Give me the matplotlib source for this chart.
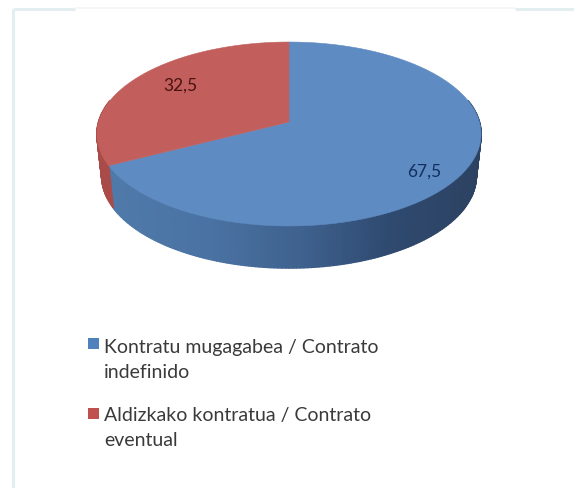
import numpy as np
import matplotlib
matplotlib.use("Agg")
import matplotlib.pyplot as plt
from matplotlib.collections import PolyCollection
from matplotlib.colors import LinearSegmentedColormap

categories = ["Kontratu mugagabea / Contrato\nindefinido",
              "Aldizkako kontratua / Contrato\neventual"]
values = [67.5, 32.5]
value_labels = ["67,5", "32,5"]
top_colors = ["#5f8bc3", "#c25f5c"]
legend_colors = ["#4f81bd", "#c0504d"]
label_colors = ["#12305e", "#4a1210"]

plt.rcParams['font.family'] = ['Lato', 'DejaVu Sans']

fig = plt.figure(figsize=(5.74, 4.88), dpi=100, facecolor="white")
ax = fig.add_axes([0, 0, 1, 1])
ax.set_xlim(0, 574)
ax.set_ylim(488, 0)
ax.axis("off")

# page frame
frame = "#e3eef1"
ax.plot([13, 13], [488, 9], color=frame, lw=2.2, solid_capstyle="butt")
ax.plot([13, 75], [9, 9], color=frame, lw=2.2, solid_capstyle="butt")
ax.plot([515, 574], [9, 9], color=frame, lw=2.2, solid_capstyle="butt")
ax.plot([75, 515], [8, 8], color="#f3f6f6", lw=1.2, solid_capstyle="butt")

# perspective disc
CX, CY, S, A, K, DEPTH, BOTTOM_SCALE = 289, 122, 190.4, 90.4, 0.1304, 42, 0.975


def project(theta):
    """theta: radians clockwise from the top of the disc."""
    x, y = np.sin(theta), np.cos(theta)
    d = 1 + K * y
    return CX + S * x / d, CY - A * y / d


def lower(x, y):
    return CX + (x - CX) * BOTTOM_SCALE, y + DEPTH


fractions = np.array(values) / sum(values)
ends = 2 * np.pi * np.cumsum(fractions)
starts = np.concatenate([[0], ends[:-1]])

# side wall
side_cmap = LinearSegmentedColormap.from_list(
    "side", ["#4f79a8", "#4a73a3", "#3f628f", "#2f4a70", "#2c4262"])
th = np.linspace(0, 2 * np.pi, 361)
blue_end = ends[0]
polys, cols = [], []
for a, b in zip(th[:-1], th[1:]):
    xa, ya = project(a)
    xb, yb = project(b)
    mid = (a + b) / 2
    if not (np.pi / 2 - 0.25 < mid < 3 * np.pi / 2 + 0.25):
        continue
    polys.append([(xa, ya), (xb, yb), lower(xb, yb), lower(xa, ya)])
    if mid < blue_end:
        cols.append(side_cmap(np.clip(((xa + xb) / 2 - 115) / 365, 0, 1)))
    else:
        cols.append("#a94c49")
ax.add_collection(PolyCollection(polys, facecolors=cols, edgecolors=cols,
                                 linewidths=1.2, zorder=2))

# top surface
for s, e, c in zip(starts, ends, top_colors):
    t = np.linspace(s, e, 300)
    xs, ys = project(t)
    ax.fill(np.r_[CX, xs], np.r_[CY, ys], facecolor=c, edgecolor=c, lw=0.4, zorder=3)

# value labels
for lab, col, (x, y) in zip(value_labels, label_colors, [(424, 172), (180, 86)]):
    ax.text(x, y, lab, color=col, fontsize=12.5, ha="center", va="center", zorder=4)

# legend
for cat, sq, y in zip(categories, legend_colors, [343, 413]):
    ax.add_patch(plt.Rectangle((88, y - 5.5), 11, 11, facecolor=sq, edgecolor="none"))
for cat, y in zip(categories, [347, 415]):
    first, second = cat.split("\n")
    ax.text(104, y, first, color="#3a3a3a", fontsize=14, ha="left", va="center")
    ax.text(104, y + 25.5, second, color="#3a3a3a", fontsize=14, ha="left", va="center")

fig.savefig("out.png", dpi=100, facecolor="white")
